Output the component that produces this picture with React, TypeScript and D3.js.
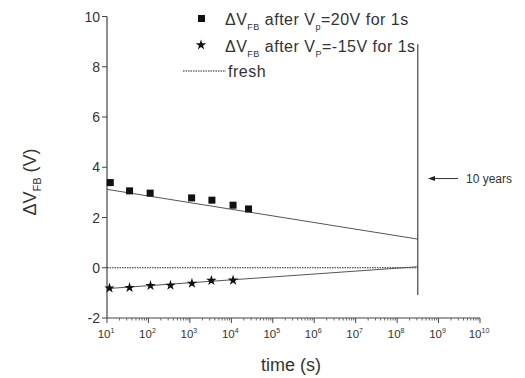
import { useEffect, useRef } from 'react';
import * as d3 from 'd3';

const squareTimes = [12, 35, 110, 1100, 3400, 11000, 26000];
const squareShift = [3.39, 3.06, 2.97, 2.78, 2.69, 2.49, 2.34];
const starTimes = [11.5, 35, 112, 340, 1120, 3300, 11000];
const starShift = [-0.81, -0.79, -0.71, -0.7, -0.62, -0.51, -0.5];
const fitTimes = [10, 3.15e8];
const upperFit = [3.12, 1.14];
const lowerFit = [-0.83, 0.04];
const freshLevel = [0, 0];
const tenYears = 3.15e8;
const yTicks = [-2, 0, 2, 4, 6, 8, 10];
const xTickExps = [1, 2, 3, 4, 5, 6, 7, 8, 9, 10];

const FONT = 'Liberation Sans, Arial, sans-serif';
const INK = '#333';

export default function App() {
  const svgRef = useRef<SVGSVGElement>(null);

  useEffect(() => {
    if (!svgRef.current) return;
    const svg = d3.select(svgRef.current);
    svg.selectAll('*').remove();

    const x = d3.scaleLog().domain([10, 1e10]).range([107, 480]);
    const y = d3.scaleLinear().domain([-2, 10]).range([318, 16.5]);

    const g = svg.append('g').attr('font-family', FONT).attr('fill', INK);

    // axes lines
    g.append('line')
      .attr('x1', x(10)).attr('x2', x(10))
      .attr('y1', y(10)).attr('y2', y(-2))
      .attr('stroke', '#444').attr('stroke-width', 1.2);
    g.append('line')
      .attr('x1', x(10)).attr('x2', x(1e10))
      .attr('y1', y(-2)).attr('y2', y(-2))
      .attr('stroke', '#444').attr('stroke-width', 1.2);

    // y ticks
    yTicks.forEach((v) => {
      g.append('line')
        .attr('x1', x(10) - 5).attr('x2', x(10))
        .attr('y1', y(v)).attr('y2', y(v))
        .attr('stroke', '#444');
      g.append('text')
        .attr('x', x(10) - 7)
        .attr('y', y(v))
        .attr('text-anchor', 'end')
        .attr('dominant-baseline', 'central')
        .attr('font-size', 14)
        .text(v);
    });

    // x ticks (log, with minors)
    xTickExps.forEach((e) => {
      const t = Math.pow(10, e);
      g.append('line')
        .attr('x1', x(t)).attr('x2', x(t))
        .attr('y1', y(-2)).attr('y2', y(-2) + 5)
        .attr('stroke', '#444');
      if (e < 10) {
        for (let m = 2; m <= 9; m++) {
          g.append('line')
            .attr('x1', x(t * m)).attr('x2', x(t * m))
            .attr('y1', y(-2)).attr('y2', y(-2) + 2.5)
            .attr('stroke', '#666');
        }
      }
      const lab = g.append('text')
        .attr('x', x(t) - 1)
        .attr('y', y(-2) + 20)
        .attr('text-anchor', 'middle')
        .attr('font-size', 11.5);
      lab.append('tspan').text('10');
      lab.append('tspan').attr('dy', -5).attr('font-size', 7).text(e);
    });

    // axis titles
    g.append('text')
      .attr('x', 291)
      .attr('y', 371)
      .attr('text-anchor', 'middle')
      .attr('font-size', 18)
      .text('time (s)');
    const yt = g.append('text')
      .attr('transform', 'translate(36,182) rotate(-90)')
      .attr('text-anchor', 'middle')
      .attr('font-size', 18);
    yt.append('tspan').text('ΔV');
    yt.append('tspan').attr('dy', 5).attr('font-size', 11).text('FB');
    yt.append('tspan').attr('dy', -5).text(' (V)');

    const line = d3
      .line<number>()
      .x((_, i) => x(fitTimes[i]))
      .y((d) => y(d));

    // fresh reference
    g.append('path')
      .attr('d', line(freshLevel))
      .attr('fill', 'none')
      .attr('stroke', '#222')
      .attr('stroke-width', 1)
      .attr('stroke-dasharray', '1.5,1');

    // fits
    [upperFit, lowerFit].forEach((f) => {
      g.append('path')
        .attr('d', line(f))
        .attr('fill', 'none')
        .attr('stroke', '#555')
        .attr('stroke-width', 1);
    });

    // 10 year marker
    g.append('line')
      .attr('x1', x(tenYears)).attr('x2', x(tenYears))
      .attr('y1', y(8.9)).attr('y2', y(-1.08))
      .attr('stroke', '#444').attr('stroke-width', 1.2);
    g.append('line')
      .attr('x1', 434).attr('x2', 458)
      .attr('y1', y(3.55)).attr('y2', y(3.55))
      .attr('stroke', '#333');
    g.append('path')
      .attr('d', `M428,${y(3.55)} l7,-2.5 l0,5 Z`)
      .attr('fill', '#222');
    g.append('text')
      .attr('x', 466)
      .attr('y', y(3.55))
      .attr('dominant-baseline', 'central')
      .attr('font-size', 12)
      .text('10 years');

    // markers
    const sq = 7;
    squareTimes.forEach((t, i) => {
      g.append('rect')
        .attr('x', x(t) - sq / 2)
        .attr('y', y(squareShift[i]) - sq / 2)
        .attr('width', sq)
        .attr('height', sq)
        .attr('fill', '#111');
    });
    const star = d3.symbol().type(d3.symbolStar).size(34);
    starTimes.forEach((t, i) => {
      g.append('path')
        .attr('d', star())
        .attr('transform', `translate(${x(t)},${y(starShift[i])})`)
        .attr('fill', '#111');
    });

    // legend
    const leg = g.append('g').attr('font-size', 16).attr('letter-spacing', 0.5);
    leg.append('rect')
      .attr('x', 198).attr('y', 15).attr('width', 7).attr('height', 7)
      .attr('fill', '#111');
    leg.append('path')
      .attr('d', star())
      .attr('transform', 'translate(201,45)')
      .attr('fill', '#111');
    const legendRows = [
      { yy: 25, sub: 'p', rest: '=20V for 1s' },
      { yy: 52, sub: 'P', rest: '=-15V for 1s' },
    ];
    legendRows.forEach((r) => {
      const tx = leg.append('text').attr('x', 225).attr('y', r.yy);
      tx.append('tspan').text('ΔV');
      tx.append('tspan').attr('dy', 5).attr('font-size', 9).text('FB');
      tx.append('tspan').attr('dy', -5).text(' after V');
      tx.append('tspan').attr('dy', 5).attr('font-size', 9).text(r.sub);
      tx.append('tspan').attr('dy', -5).text(r.rest);
    });
    leg.append('line')
      .attr('x1', 183).attr('x2', 226)
      .attr('y1', 71).attr('y2', 71)
      .attr('stroke', '#222')
      .attr('stroke-dasharray', '1.5,1');
    leg.append('text').attr('x', 228).attr('y', 77).text('fresh');
  }, []);

  return (
    <svg
      ref={svgRef}
      width={525}
      height={378}
      style={{ position: 'absolute', left: 0, top: 0, background: '#fff' }}
    />
  );
}
